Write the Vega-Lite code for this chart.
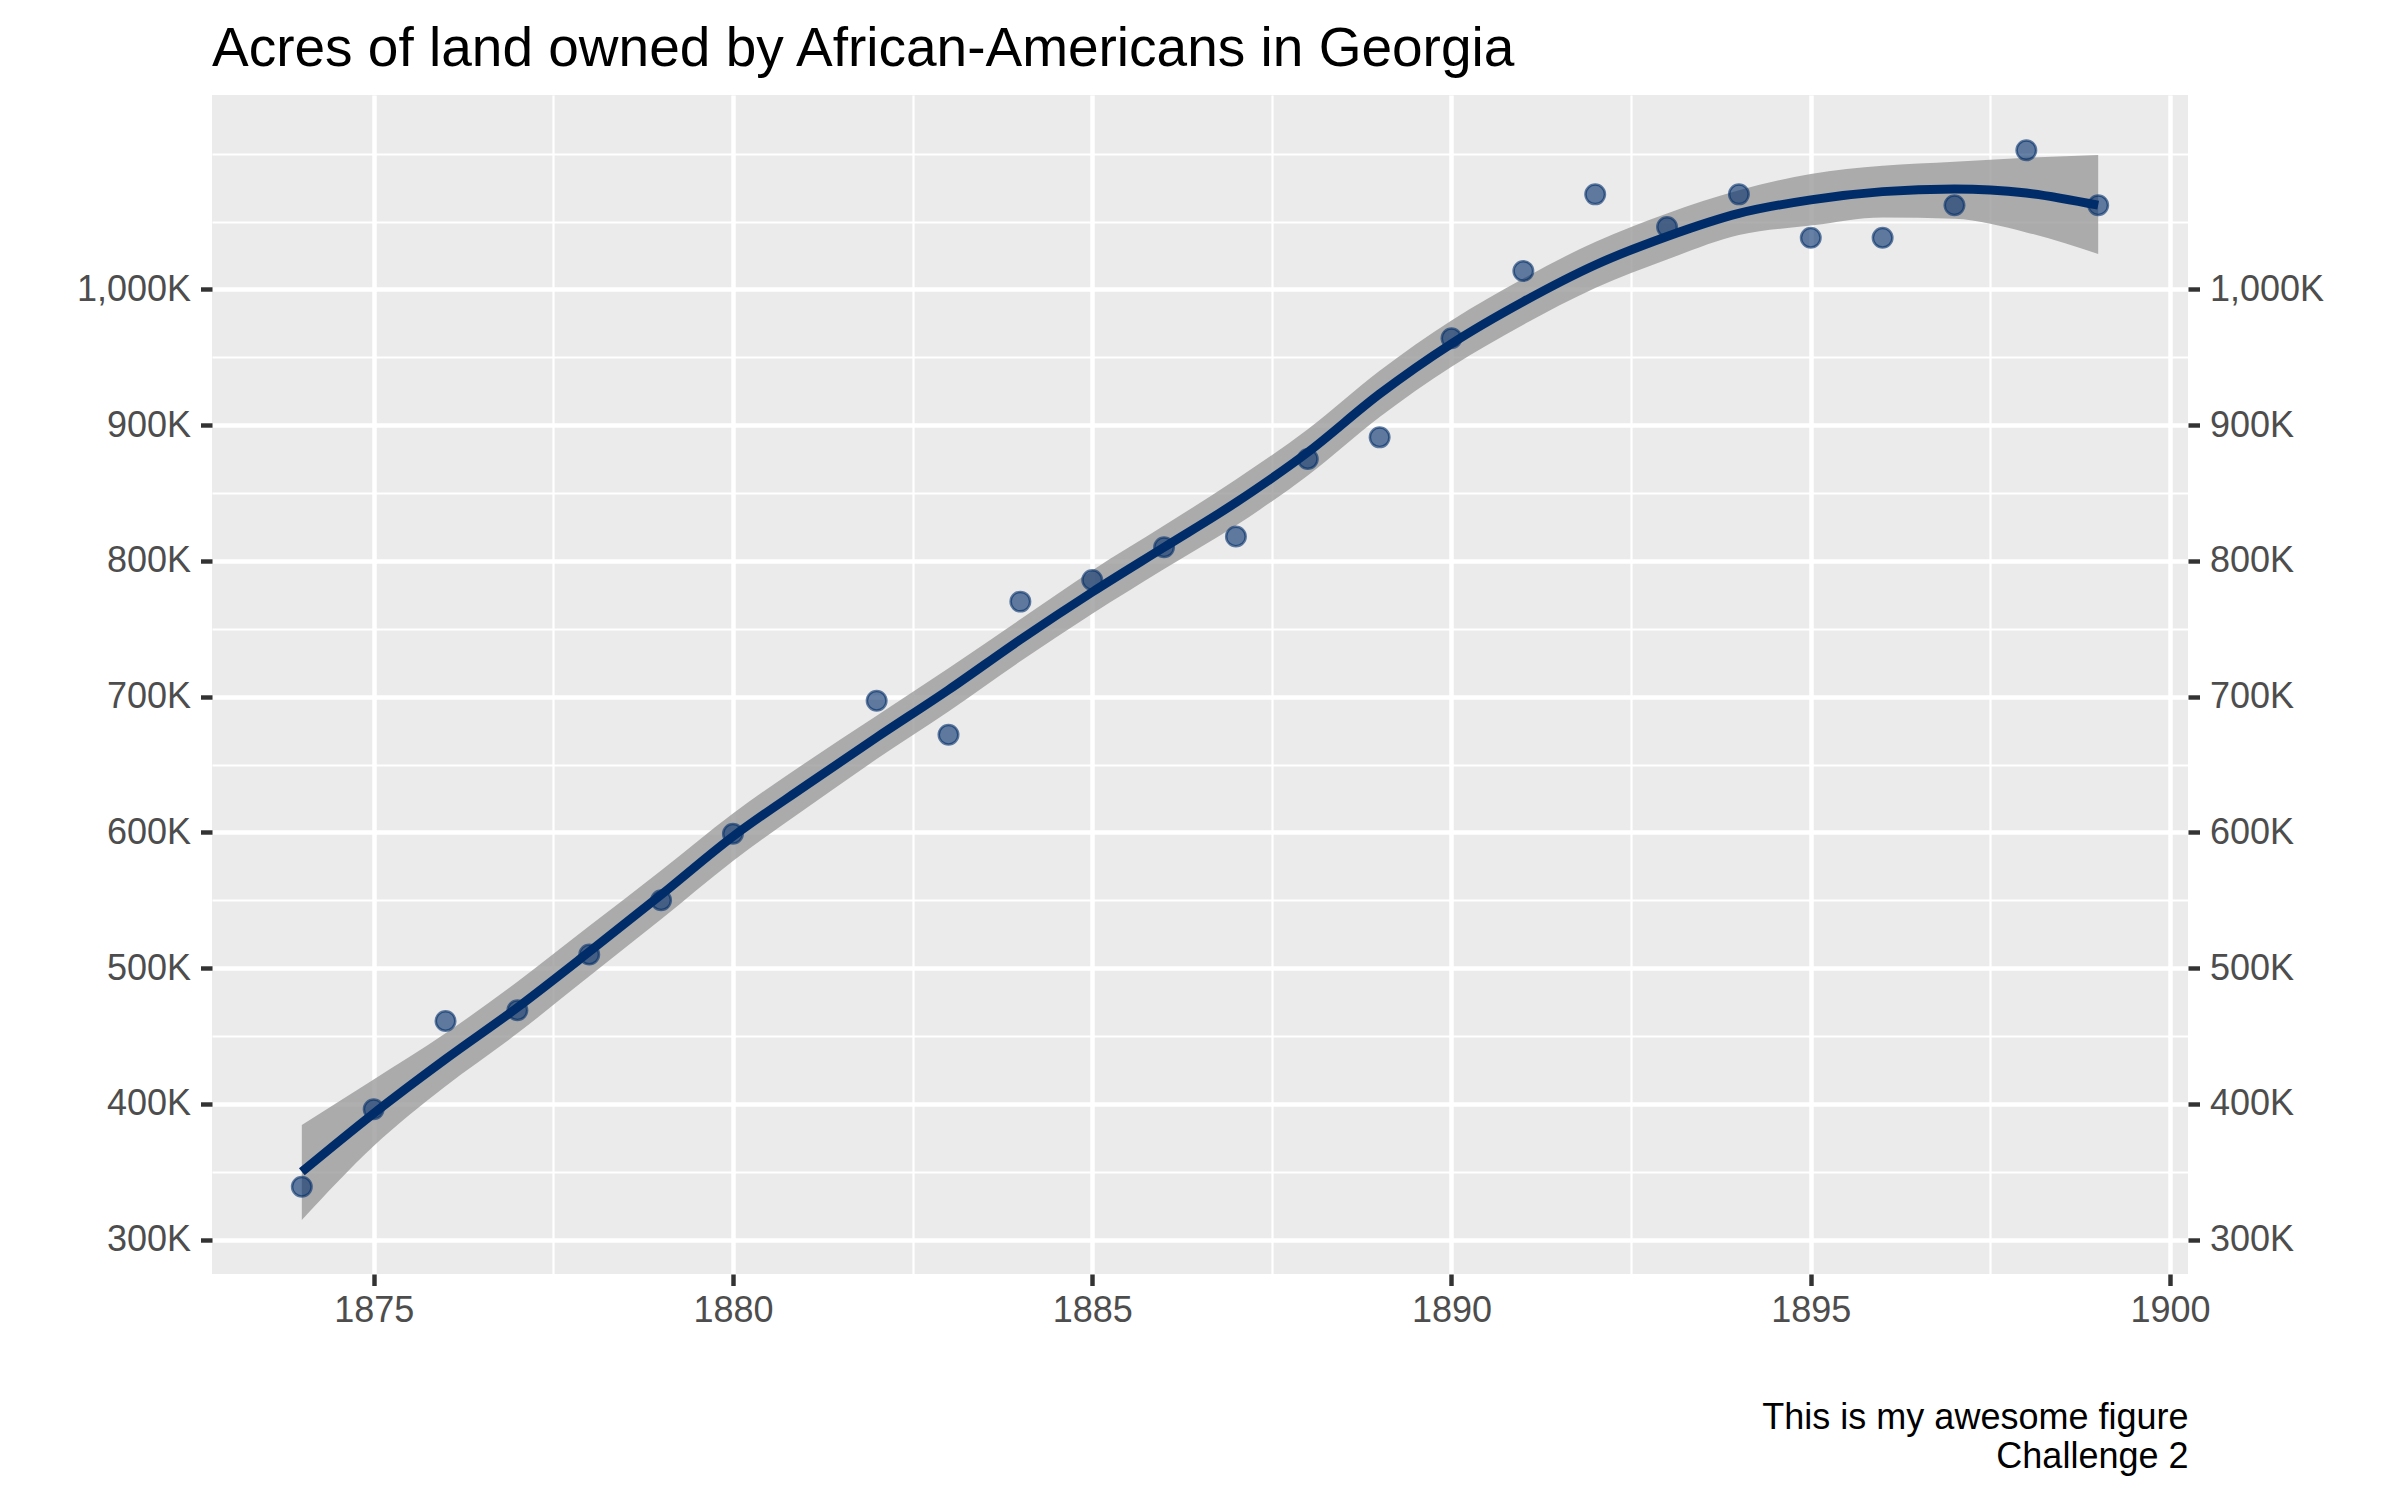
{
  "$schema": "https://vega.github.io/schema/vega-lite/v6.json",
  "width": 1976,
  "height": 1179,
  "autosize": {"type": "none"},
  "padding": {"left": 212, "top": 95, "right": 212, "bottom": 226},
  "background": "white",
  "title": {
    "text": "Acres of land owned by African-Americans in Georgia",
    "anchor": "start",
    "frame": "group",
    "fontSize": 55,
    "font": "Liberation Sans",
    "fontWeight": "normal",
    "color": "#000000",
    "baseline": "alphabetic",
    "offset": -26
  },
  "config": {
    "view": {"fill": "#EBEBEB", "stroke": null},
    "font": "Liberation Sans"
  },
  "datasets": {
    "smooth": [
      {"year": 1874, "fit": 350000, "lo": 314500, "hi": 384500},
      {"year": 1875, "fit": 393000, "lo": 369000, "hi": 418000},
      {"year": 1876, "fit": 433000, "lo": 413000, "hi": 452000},
      {"year": 1877, "fit": 471000, "lo": 452000, "hi": 490000},
      {"year": 1878, "fit": 512000, "lo": 494000, "hi": 531000},
      {"year": 1879, "fit": 554000, "lo": 536000, "hi": 572000},
      {"year": 1880, "fit": 597000, "lo": 579000, "hi": 614000},
      {"year": 1881, "fit": 634000, "lo": 617000, "hi": 651000},
      {"year": 1882, "fit": 670000, "lo": 654000, "hi": 686000},
      {"year": 1883, "fit": 705000, "lo": 689000, "hi": 721000},
      {"year": 1884, "fit": 742000, "lo": 726000, "hi": 757000},
      {"year": 1885, "fit": 777000, "lo": 761000, "hi": 793000},
      {"year": 1886, "fit": 810000, "lo": 794000, "hi": 826000},
      {"year": 1887, "fit": 843000, "lo": 826000, "hi": 860000},
      {"year": 1888, "fit": 880000, "lo": 863000, "hi": 897000},
      {"year": 1889, "fit": 923000, "lo": 906000, "hi": 940000},
      {"year": 1890, "fit": 960000, "lo": 943000, "hi": 977000},
      {"year": 1891, "fit": 991000, "lo": 974000, "hi": 1008000},
      {"year": 1892, "fit": 1018000, "lo": 1001000, "hi": 1035000},
      {"year": 1893, "fit": 1039000, "lo": 1022000, "hi": 1056000},
      {"year": 1894, "fit": 1056000, "lo": 1040000, "hi": 1073000},
      {"year": 1895, "fit": 1066000, "lo": 1047000, "hi": 1085000},
      {"year": 1896, "fit": 1072000, "lo": 1053000, "hi": 1091000},
      {"year": 1897, "fit": 1074000, "lo": 1052000, "hi": 1094000},
      {"year": 1898, "fit": 1071000, "lo": 1042000, "hi": 1097000},
      {"year": 1899, "fit": 1062000, "lo": 1026000, "hi": 1099000}
    ],
    "obs": [
      {"year": 1874, "acres": 339000},
      {"year": 1875, "acres": 396000},
      {"year": 1876, "acres": 461000},
      {"year": 1877, "acres": 469000},
      {"year": 1878, "acres": 510000},
      {"year": 1879, "acres": 550000},
      {"year": 1880, "acres": 599000},
      {"year": 1882, "acres": 697000},
      {"year": 1883, "acres": 672000},
      {"year": 1884, "acres": 770000},
      {"year": 1885, "acres": 786000},
      {"year": 1886, "acres": 810000},
      {"year": 1887, "acres": 818000},
      {"year": 1888, "acres": 875000},
      {"year": 1889, "acres": 891000},
      {"year": 1890, "acres": 964000},
      {"year": 1891, "acres": 1013500},
      {"year": 1892, "acres": 1070000},
      {"year": 1893, "acres": 1046000},
      {"year": 1894, "acres": 1070000},
      {"year": 1895, "acres": 1038000},
      {"year": 1896, "acres": 1038000},
      {"year": 1897, "acres": 1062000},
      {"year": 1898, "acres": 1102500},
      {"year": 1899, "acres": 1062000}
    ]
  },
  "layer": [
    {
      "data": {"name": "smooth"},
      "mark": {"type": "area", "color": "#999999", "opacity": 0.78, "interpolate": "monotone"},
      "encoding": {
        "x": {
          "field": "year",
          "type": "quantitative",
          "scale": {"domain": [1872.75, 1900.25], "nice": false, "zero": false},
          "axis": {
            "values": [1875, 1877.5, 1880, 1882.5, 1885, 1887.5, 1890, 1892.5, 1895, 1897.5, 1900],
            "labelExpr": "datum.value % 5 === 0 ? format(datum.value, 'd') : ''",
            "domain": false,
            "grid": true,
            "gridColor": "#FFFFFF",
            "gridOpacity": 1,
            "gridWidth": {"condition": {"test": "datum.value % 5 === 0", "value": 4.45}, "value": 2.2},
            "ticks": true,
            "tickColor": "#333333",
            "tickWidth": 4.45,
            "tickSize": 11.5,
            "tickOpacity": {"condition": {"test": "datum.value % 5 === 0", "value": 1}, "value": 0},
            "labelFontSize": 36,
            "labelColor": "#4D4D4D",
            "labelFont": "Liberation Sans",
            "labelBaseline": "alphabetic",
            "labelPadding": 36,
            "labelFlush": false,
            "labelOverlap": false,
            "title": ["This is my awesome figure", "Challenge 2"],
            "titleAnchor": "end",
            "titleAlign": "right",
            "titleBaseline": "alphabetic",
            "titleFontSize": 36,
            "titleFontWeight": "normal",
            "titleColor": "#000000",
            "titleFont": "Liberation Sans",
            "titleLineHeight": 39,
            "titleY": 154
          }
        },
        "y": {
          "field": "lo",
          "type": "quantitative",
          "scale": {"domain": [274700, 1143200], "nice": false, "zero": false},
          "axis": {
            "orient": "left",
            "values": [300000, 350000, 400000, 450000, 500000, 550000, 600000, 650000, 700000, 750000, 800000, 850000, 900000, 950000, 1000000, 1050000, 1100000],
            "labelExpr": "(datum.value % 100000 === 0 && datum.value <= 1000000) ? format(datum.value / 1000, ',') + 'K' : ''",
            "domain": false,
            "grid": true,
            "gridColor": "#FFFFFF",
            "gridOpacity": 1,
            "gridWidth": {"condition": {"test": "datum.value % 100000 === 0 && datum.value <= 1000000", "value": 4.45}, "value": 2.2},
            "ticks": true,
            "tickColor": "#333333",
            "tickWidth": 4.45,
            "tickSize": 11.5,
            "tickOpacity": {"condition": {"test": "datum.value % 100000 === 0 && datum.value <= 1000000", "value": 1}, "value": 0},
            "labelFontSize": 36,
            "labelColor": "#4D4D4D",
            "labelFont": "Liberation Sans",
            "labelPadding": 10,
            "labelFlush": false,
            "labelOverlap": false,
            "title": null
          }
        },
        "y2": {"field": "hi"}
      }
    },
    {
      "data": {"name": "smooth"},
      "mark": {"type": "line", "color": "#002D69", "strokeWidth": 8.9, "interpolate": "monotone"},
      "encoding": {
        "x": {"field": "year", "type": "quantitative"},
        "y": {"field": "fit", "type": "quantitative", "axis": null}
      }
    },
    {
      "data": {"name": "obs"},
      "mark": {"type": "point", "filled": false, "fill": "#002D69", "stroke": "#002D69", "fillOpacity": 0.6, "strokeOpacity": 0.6, "strokeWidth": 2.5, "size": 380, "shape": "circle"},
      "encoding": {
        "x": {"field": "year", "type": "quantitative"},
        "y": {
          "field": "acres",
          "type": "quantitative",
          "axis": {
            "orient": "right",
            "values": [300000, 350000, 400000, 450000, 500000, 550000, 600000, 650000, 700000, 750000, 800000, 850000, 900000, 950000, 1000000, 1050000, 1100000],
            "labelExpr": "(datum.value % 100000 === 0 && datum.value <= 1000000) ? format(datum.value / 1000, ',') + 'K' : ''",
            "domain": false,
            "grid": false,
            "ticks": true,
            "tickColor": "#333333",
            "tickWidth": 4.45,
            "tickSize": 11.5,
            "tickOpacity": {"condition": {"test": "datum.value % 100000 === 0 && datum.value <= 1000000", "value": 1}, "value": 0},
            "labelFontSize": 36,
            "labelColor": "#4D4D4D",
            "labelFont": "Liberation Sans",
            "labelPadding": 10,
            "labelFlush": false,
            "labelOverlap": false,
            "title": null
          }
        }
      }
    }
  ],
  "resolve": {"axis": {"y": "independent"}}
}
